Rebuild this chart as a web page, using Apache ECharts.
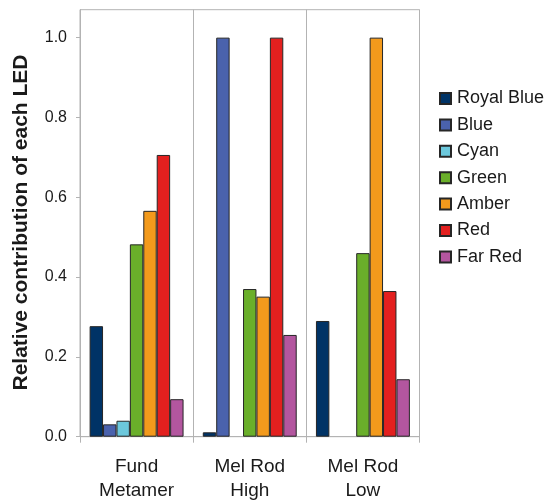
<!DOCTYPE html>
<html><head><meta charset="utf-8">
<script src="https://cdn.jsdelivr.net/npm/echarts@6/dist/echarts.min.js"></script>
<style>html,body{margin:0;padding:0;background:#fff}#c{width:547px;height:500px}</style>
</head><body><div id="c"></div>
<script>
const categories = ['Fund\nMetamer', 'Mel Rod\nHigh', 'Mel Rod\nLow'];
const seriesNames = ['Royal Blue', 'Blue', 'Cyan', 'Green', 'Amber', 'Red', 'Far Red'];
const royalBlue = [0.277, 0.011, 0.290];
const blue = [0.031, 1.0, 0];
const cyan = [0.040, 0, 0];
const green = [0.482, 0.370, 0.460];
const amber = [0.566, 0.351, 1.0];
const red = [0.706, 1.0, 0.365];
const farRed = [0.094, 0.255, 0.144];
const yTicks = [0, 0.2, 0.4, 0.6, 0.8, 1.0];
const colors = ['#003366', '#4a62ad', '#6cc8dc', '#6aaf2a', '#f39a1c', '#e3201f', '#b3569f'];
const values = [royalBlue, blue, cyan, green, amber, red, farRed];
const FONT = '"Liberation Sans", Arial, sans-serif';

const chart = echarts.init(document.getElementById('c'), null, {renderer: 'canvas'});
chart.setOption({
  animation: false,
  backgroundColor: '#fff',
  grid: {left: 80, right: 127.5, top: 9.7, bottom: 63.3, show: true, borderColor: '#b3b3b3', borderWidth: 1,
    containLabel: false, outerBoundsMode: 'none'},
  legend: {
    orient: 'vertical', left: 434, top: 84.5, itemWidth: 11, itemHeight: 11, itemGap: 8.4,
    icon: 'rect',
    textStyle: {fontFamily: FONT, fontSize: 18, color: '#1a1a1a', lineHeight: 18, padding: [0, 0, 0, 1]},
    data: seriesNames
  },
  xAxis: {
    type: 'category', data: categories,
    axisLine: {show: true, lineStyle: {color: '#b3b3b3'}},
    axisTick: {show: true, length: 6, lineStyle: {color: '#b3b3b3'}},
    splitLine: {show: true, lineStyle: {color: '#b3b3b3'}},
    axisLabel: {fontFamily: FONT, fontSize: 19, color: '#1a1a1a', margin: 18, lineHeight: 24}
  },
  yAxis: {
    type: 'value', min: 0, max: 1.07,
    axisLine: {show: true, lineStyle: {color: '#b3b3b3'}},
    axisTick: {show: true, length: 4, lineStyle: {color: '#b3b3b3'}, customValues: yTicks},
    splitLine: {show: false},
    axisLabel: {fontFamily: FONT, fontSize: 16, color: '#1a1a1a', margin: 13, customValues: yTicks,
      formatter: v => v.toFixed(1)}
  },
  graphic: [{
    type: 'text', x: 21, y: 222.5, rotation: Math.PI / 2,
    style: {text: 'Relative contribution of each LED', font: 'bold 21px ' + FONT, fill: '#1a1a1a', align: 'center', verticalAlign: 'middle'}
  }],
  series: seriesNames.map((n, i) => ({
    name: n, type: 'bar', data: values[i].map(v => (v === 0 ? null : v)), barGap: '0%', barCategoryGap: '17%',
    itemStyle: {color: colors[i], borderColor: '#262626', borderWidth: 1}
  }))
});
</script></body></html>
